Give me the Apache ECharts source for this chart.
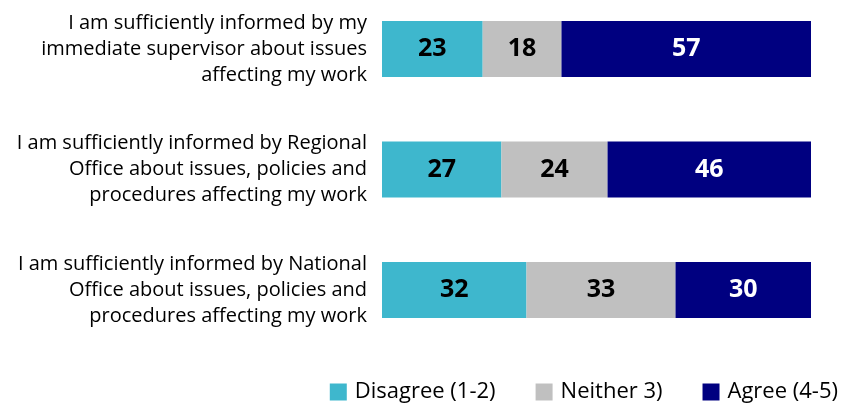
<!DOCTYPE html>
<html>
<head>
<meta charset="utf-8">
<script src="https://cdn.jsdelivr.net/npm/echarts@6/dist/echarts.min.js"></script>
<style>
  html, body { margin: 0; padding: 0; background: #fff; }
  #main { width: 845px; height: 404px; }
</style>
</head>
<body>
<div id="main"></div>
<script>
var categories = [
    'I am sufficiently informed by my\nimmediate supervisor about issues\naffecting my work',
    'I am sufficiently informed by Regional\nOffice about issues, policies and\nprocedures affecting my work',
    'I am sufficiently informed by National\nOffice about issues, policies and\nprocedures affecting my work'
];
var seriesNames = ['Disagree (1-2)', 'Neither 3)', 'Agree (4-5)'];
var disagree = [23, 27, 32];
var neither = [18, 24, 33];
var agree = [57, 46, 30];
var colors = ['#3EB7CD', '#C0C0C0', '#000080'];
var labelColors = ['#000', '#000', '#fff'];

// bars are drawn as share of each row total, labels show the raw numbers
var raw = [disagree, neither, agree];
var totals = categories.map(function(c, i){
    return disagree[i] + neither[i] + agree[i];
});

var myChart = echarts.init(document.getElementById('main'));
var font = '"Open Sans", sans-serif';

var series = raw.map(function(vals, s){
    return {
        name: seriesNames[s],
        type: 'bar',
        stack: 'total',
        barWidth: 56,
        itemStyle: { color: colors[s] },
        label: {
            show: true,
            position: 'inside',
            color: labelColors[s],
            fontFamily: font,
            fontWeight: 'bold',
            fontSize: 25,
            formatter: function(p){ return vals[p.dataIndex]; }
        },
        data: vals.map(function(v, i){ return v / totals[i] * 100; })
    };
});

var option = {
    animation: false,
    grid: { left: 382, right: 34, top: 49, height: 241 },
    legend: {
        top: 376,
        right: 2,
        itemWidth: 17,
        itemHeight: 17,
        itemGap: 40,
        icon: 'rect',
        textStyle: { fontFamily: font, fontSize: 22, color: '#000', padding: [0, 0, 0, 3] },
        data: seriesNames
    },
    xAxis: {
        type: 'value',
        min: 0,
        max: 100,
        show: false
    },
    yAxis: {
        type: 'category',
        inverse: true,
        boundaryGap: false,
        data: categories,
        axisLine: { show: false },
        axisTick: { show: false },
        axisLabel: {
            margin: 15,
            align: 'right',
            lineHeight: 26,
            fontFamily: font,
            fontSize: 20,
            color: '#000'
        }
    },
    series: series
};
myChart.setOption(option);
</script>
</body>
</html>
